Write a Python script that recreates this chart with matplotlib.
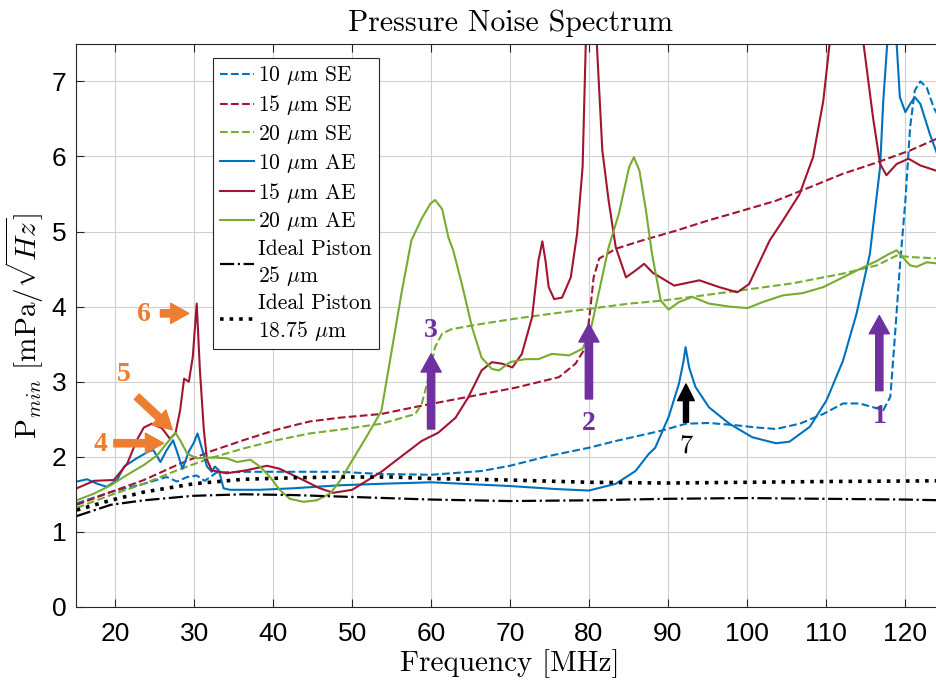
import matplotlib
matplotlib.use('Agg')
import matplotlib.pyplot as plt

plt.rcParams['font.family'] = ['Liberation Sans', 'DejaVu Sans']
plt.rcParams['mathtext.fontset'] = 'cm'
plt.rcParams['xtick.direction'] = 'in'
plt.rcParams['ytick.direction'] = 'in'
plt.rcParams['axes.unicode_minus'] = False

SERIF = 'cmr10'

BLUE = '#0072BD'
RED = '#A2142F'
GREEN = '#77AC30'
ORANGE = '#ED7D31'
PURPLE = '#7030A0'

# ---- data (frequency in MHz, P_min in mPa/sqrt(Hz)) ----
f_se10 = [15.1, 19.4, 23.6, 26.5, 27.8, 29.1, 30.3, 31.3, 31.9, 32.8, 36.6, 42.5, 48.4, 53.7, 60.0,
          66.4, 70.0, 74.9, 80.0, 83.4, 89.3, 92.3, 95.2, 98.6, 101.2, 103.7, 106.7, 109.7, 112.2,
          114.3, 116.0, 117.3, 118.2, 118.8, 119.4, 120.1, 120.7, 121.3, 122.0, 122.8, 123.7, 124.6]
p_se10 = [1.38, 1.53, 1.64, 1.73, 1.67, 1.73, 1.75, 1.68, 1.72, 1.79, 1.80, 1.80, 1.80, 1.77, 1.76,
          1.81, 1.88, 2.01, 2.12, 2.21, 2.35, 2.44, 2.45, 2.42, 2.39, 2.37, 2.44, 2.57, 2.71,
          2.71, 2.66, 2.62, 2.80, 3.64, 4.53, 5.41, 6.39, 6.88, 7.00, 6.92, 6.65, 6.48]

f_se15 = [15.1, 19.4, 23.6, 27.8, 32.0, 36.2, 40.4, 44.6, 48.4, 53.7, 58.8, 64.3, 70.7, 76.2, 78.3,
          79.6, 80.2, 80.6, 81.3, 83.4, 86.7, 91.0, 95.2, 99.5, 103.7, 108.0, 112.2, 116.5, 120.7, 124.6]
p_se15 = [1.36, 1.53, 1.69, 1.89, 2.07, 2.22, 2.36, 2.47, 2.52, 2.57, 2.68, 2.79, 2.92, 3.06, 3.24,
          3.46, 3.99, 4.39, 4.64, 4.77, 4.88, 5.01, 5.15, 5.28, 5.41, 5.59, 5.77, 5.92, 6.08, 6.26]

f_se20 = [15.1, 19.4, 23.6, 27.8, 32.0, 36.2, 40.4, 44.6, 48.4, 53.7, 58.0, 58.8, 59.7, 60.5, 61.4,
          62.6, 66.4, 70.7, 74.9, 80.0, 85.1, 89.3, 93.1, 99.5, 105.8, 112.2, 116.5, 119.0, 120.7, 124.6]
p_se20 = [1.32, 1.49, 1.64, 1.82, 1.98, 2.11, 2.22, 2.31, 2.36, 2.44, 2.57, 2.70, 3.06, 3.46, 3.64,
          3.70, 3.77, 3.84, 3.90, 3.97, 4.04, 4.08, 4.13, 4.22, 4.31, 4.44, 4.55, 4.68, 4.66, 4.64]

f_ae10 = [15.1, 16.4, 17.7, 18.9, 20.2, 21.1, 22.7, 24.2, 24.8, 25.7, 26.5, 27.3, 27.8, 28.5, 29.3,
          29.9, 30.4, 30.9, 31.6, 32.2, 32.6, 33.1, 33.7, 34.5, 38.3, 42.5, 48.4, 53.7, 60.0, 70.0,
          75.8, 80.0, 83.4, 85.9, 87.6, 88.4, 90.1, 91.4, 92.0, 92.25, 92.7, 93.5, 95.2, 97.8, 100.7,
          103.7, 105.4, 108.0, 110.1, 112.2, 113.9, 115.6, 116.9, 117.3, 117.8, 118.4, 119.0, 119.4,
          120.1, 120.7, 121.3, 122.0, 123.2, 124.6]
p_ae10 = [1.67, 1.70, 1.64, 1.60, 1.69, 1.87, 1.98, 2.07, 2.09, 1.93, 2.09, 2.22, 2.07, 1.84, 2.07,
          2.18, 2.31, 2.13, 1.87, 1.80, 1.87, 1.82, 1.58, 1.56, 1.56, 1.58, 1.62, 1.64, 1.66, 1.61,
          1.57, 1.55, 1.64, 1.81, 2.04, 2.12, 2.53, 2.97, 3.28, 3.46, 3.19, 2.93, 2.66, 2.44, 2.26,
          2.18, 2.20, 2.40, 2.75, 3.28, 3.90, 4.70, 5.86, 6.74, 7.50, 9.00, 7.50, 6.79,
          6.59, 6.70, 6.79, 6.70, 6.30, 5.90]

f_ae15 = [15.1, 17.3, 19.8, 21.5, 22.7, 23.6, 24.6, 25.9, 26.9, 27.6, 28.2, 28.7, 29.3, 29.8, 30.3,
          30.7, 31.2, 31.6, 32.2, 34.1, 36.6, 39.2, 40.8, 43.4, 45.9, 47.6, 50.0, 53.7, 56.3, 58.8,
          60.9, 63.1, 64.7, 66.4, 67.7, 69.0, 70.3, 71.5, 72.8, 73.6, 74.1, 74.5, 74.9, 75.6, 76.6,
          77.7, 78.5, 79.2, 79.6, 80.3, 81.0, 81.7, 82.5, 83.4, 84.7, 85.9, 87.0, 88.1, 90.8, 94.0,
          96.5, 98.8, 100.3, 102.9, 104.6, 106.7, 108.4, 109.7, 110.5, 112.5, 114.8, 116.0, 116.9,
          117.7, 119.0, 120.5, 122.0, 124.6]
p_ae15 = [1.58, 1.68, 1.69, 1.91, 2.22, 2.39, 2.44, 2.38, 2.24, 2.31, 2.62, 3.04, 3.00, 3.33, 4.04,
          3.16, 2.36, 1.96, 1.82, 1.78, 1.82, 1.88, 1.84, 1.71, 1.58, 1.52, 1.56, 1.80, 2.01, 2.21,
          2.32, 2.52, 2.79, 3.15, 3.26, 3.24, 3.19, 3.37, 3.86, 4.61, 4.87, 4.61, 4.26, 4.10, 4.12,
          4.39, 4.97, 5.86, 7.50, 8.80, 7.50, 6.08, 5.41, 4.79, 4.39, 4.48, 4.57, 4.45, 4.28, 4.35,
          4.26, 4.19, 4.30, 4.88, 5.15, 5.50, 5.99, 6.74, 7.50, 9.50, 7.50, 6.52, 5.90,
          5.75, 5.90, 5.97, 5.88, 5.79]

f_ae20 = [15.1, 17.3, 19.4, 21.5, 23.6, 25.3, 26.5, 27.6, 28.2, 29.1, 30.3, 32.4, 34.1, 35.4, 37.1,
          38.3, 39.6, 40.8, 42.1, 43.8, 45.5, 47.2, 48.4, 50.0, 52.0, 53.7, 55.0, 56.3, 57.5, 58.8,
          59.9, 60.5, 61.4, 62.2, 62.8, 63.9, 65.2, 66.4, 67.7, 68.6, 70.0, 71.9, 73.6, 75.3, 77.5,
          79.2, 80.2, 81.3, 82.5, 83.8, 85.1, 85.7, 86.4, 87.2, 88.0, 89.1, 90.1, 91.4, 93.1, 95.2,
          97.8, 100.1, 102.0, 104.6, 107.1, 109.7, 112.2, 114.3, 116.5, 118.0, 119.0, 119.9, 120.7,
          121.5, 122.8, 124.6]
p_ae20 = [1.42, 1.51, 1.62, 1.76, 1.89, 2.02, 2.18, 2.32, 2.22, 2.04, 1.98, 1.99, 1.98, 1.93, 1.96,
          1.87, 1.73, 1.56, 1.44, 1.40, 1.42, 1.51, 1.67, 1.95, 2.30, 2.61, 3.41, 4.21, 4.88, 5.17,
          5.37, 5.42, 5.30, 4.92, 4.75, 4.30, 3.72, 3.32, 3.17, 3.15, 3.26, 3.30, 3.30, 3.37, 3.35,
          3.44, 3.68, 4.21, 4.79, 5.24, 5.86, 5.99, 5.81, 5.30, 4.70, 4.08, 3.96, 4.06, 4.13, 4.04,
          4.00, 3.98, 4.06, 4.15, 4.18, 4.26, 4.39, 4.50, 4.61, 4.70, 4.75, 4.64, 4.55,
          4.53, 4.59, 4.57]

f_pist25 = [15.1, 19.4, 23.6, 29.9, 36.2, 42.5, 48.4, 60.0, 70.0, 80.0, 90.0, 100.0, 110.0, 120.0, 125.0]
p_pist25 = [1.21, 1.36, 1.42, 1.48, 1.50, 1.49, 1.47, 1.43, 1.41, 1.42, 1.44, 1.45, 1.44, 1.43, 1.42]

f_pist1875 = [15.1, 19.4, 23.6, 29.9, 36.2, 42.5, 48.4, 55.0, 60.0, 70.0, 80.0, 90.0, 100.0, 110.0, 125.0]
p_pist1875 = [1.29, 1.42, 1.53, 1.64, 1.70, 1.72, 1.73, 1.73, 1.71, 1.69, 1.66, 1.65, 1.66, 1.67, 1.68]

x_ticks = list(range(20, 130, 10))
y_ticks = list(range(0, 8))

# callouts: (label, text x, text y, tail, head, colour, bold)
callouts = [
    ('6', 23.6, 3.89, (25.7, 3.91), (29.3, 3.91), ORANGE, True),
    ('5', 21.1, 3.09, (22.7, 2.80), (27.2, 2.36), ORANGE, True),
    ('4', 18.1, 2.16, (19.8, 2.18), (26.1, 2.18), ORANGE, True),
    ('3', 60.0, 3.68, (60.0, 2.37), (60.0, 3.37), PURPLE, True),
    ('2', 80.0, 2.44, (80.0, 2.77), (80.0, 3.77), PURPLE, True),
    ('1', 116.8, 2.53, (116.8, 2.88), (116.8, 3.88), PURPLE, True),
    ('7', 92.3, 2.15, (92.3, 2.46), (92.3, 2.97), 'black', False),
]

fig = plt.figure(figsize=(9.37, 6.85), dpi=100)
ax = fig.add_axes([0.0811, 0.114, 0.9264, 0.822])

ax.plot(f_se10, p_se10, '--', color=BLUE, lw=1.5, label=r'10 $\mu$m SE')
ax.plot(f_se15, p_se15, '--', color=RED, lw=1.5, label=r'15 $\mu$m SE')
ax.plot(f_se20, p_se20, '--', color=GREEN, lw=1.5, label=r'20 $\mu$m SE')
ax.plot(f_ae10, p_ae10, '-', color=BLUE, lw=1.5, label=r'10 $\mu$m AE')
ax.plot(f_ae15, p_ae15, '-', color=RED, lw=1.5, label=r'15 $\mu$m AE')
ax.plot(f_ae20, p_ae20, '-', color=GREEN, lw=1.5, label=r'20 $\mu$m AE')
ax.plot(f_pist25, p_pist25, '-.', color='black', lw=1.6, label='Ideal Piston\n' + r'25 $\mu$m')
ax.plot(f_pist1875, p_pist1875, ':', color='black', lw=2.6, label='Ideal Piston\n' + r'18.75 $\mu$m')

ax.set_xlim(15, 125)
ax.set_ylim(0, 7.5)
ax.set_xticks(x_ticks)
ax.set_yticks(y_ticks)
ax.tick_params(labelsize=19, top=True, right=True, length=6, width=0.8, color='#262626')
ax.tick_params(axis='x', pad=11)
ax.tick_params(axis='y', pad=7)
ax.grid(True, color='#d0d0d0', lw=0.8)
ax.set_axisbelow(True)
for s in ax.spines.values():
    s.set_color('#262626')
    s.set_linewidth(0.8)

ax.set_title('Pressure Noise Spectrum', family=SERIF, fontsize=21.5, pad=9)
ax.set_xlabel('Frequency [MHz]', family=SERIF, fontsize=21, labelpad=2)
ax.set_ylabel(r'P$_{min}$ [mPa/$\sqrt{Hz}$]', family=SERIF, fontsize=21, labelpad=4)

leg = ax.legend(loc='upper left', bbox_to_anchor=(0.158, 0.975), borderaxespad=0,
                prop={'family': SERIF, 'size': 15.5}, handlelength=1.6, handletextpad=0.2,
                labelspacing=0.27, borderpad=0.3, fancybox=False, framealpha=1,
                edgecolor='#262626')
leg.get_frame().set_linewidth(0.8)
for t in leg.get_texts():
    t.set_linespacing(1.3)

for lab, tx, ty, tail, head, col, bold in callouts:
    if bold:
        ax.text(tx, ty, lab, color=col, fontsize=20, fontweight='bold', family='Liberation Serif',
                ha='center', va='center')
        ms = 29
        style = 'simple,head_length=0.45,head_width=0.5,tail_width=0.18'
    else:
        ax.text(tx, ty, lab, color=col, fontsize=19, family=SERIF, ha='center', va='center')
        ms = 24
        style = 'simple,head_length=0.5,head_width=0.5,tail_width=0.15'
    ax.annotate('', xy=head, xytext=tail,
                arrowprops=dict(arrowstyle=style, color=col, mutation_scale=ms,
                                shrinkA=0, shrinkB=0))

fig.savefig('out.png', dpi=100)
